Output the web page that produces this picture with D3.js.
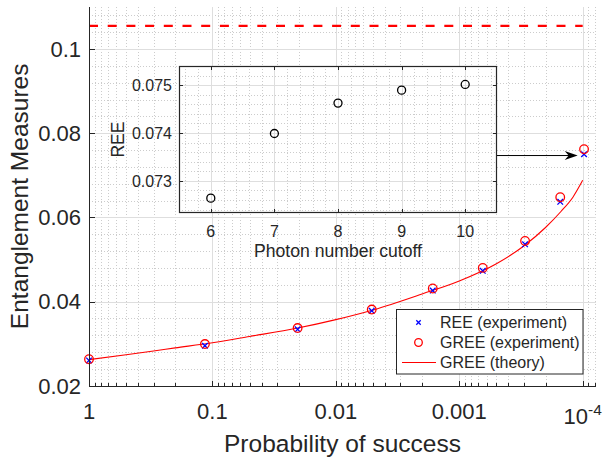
<!DOCTYPE html>
<html><head><meta charset="utf-8">
<script src="https://cdn.jsdelivr.net/npm/d3@7"></script>
<style>
body{margin:0;background:#fff}
svg{display:block}
text{font-family:"Liberation Sans",Arial,Helvetica,sans-serif;fill:#262626}
</style>
</head><body>
<svg id="chart" width="603" height="459"></svg>
<script>
// ---------- data ----------
const probability = [1, 0.115, 0.0204, 0.00512, 0.00164, 6.45e-4, 2.93e-4, 1.52e-4, 9.75e-5];
const reeExperiment = [0.0260, 0.0295, 0.0334, 0.0378, 0.0426, 0.0473, 0.0536, 0.0637, 0.0750];
const greeExperiment = [0.0263, 0.0299, 0.0337, 0.0381, 0.0431, 0.0480, 0.0544, 0.0648, 0.0762];
const theoryProbability = [1, 0.5, 0.3, 0.2, 0.1, 0.05, 0.0204, 0.01, 0.005, 0.002, 0.001, 5e-4, 3e-4, 2e-4, 1.5e-4, 1.2e-4, 1e-4];
const greeTheory = [0.0262, 0.02737, 0.02826, 0.02898, 0.0302, 0.0317, 0.0337, 0.0357, 0.0380, 0.0418, 0.0449, 0.0490, 0.0532, 0.0576, 0.0614, 0.0648, 0.0688];
const boundProbability = [1, 1e-4];
const boundValue = [0.1055, 0.1055];
const xTicks = [1, 0.1, 0.01, 0.001, 1e-4];
const xTickLabels = ["1", "0.1", "0.01", "0.001", "10^-4"];
const yTicks = [0.02, 0.04, 0.06, 0.08, 0.1];
const yTickLabels = ["0.02", "0.04", "0.06", "0.08", "0.1"];
const legendLabels = ["REE (experiment)", "GREE (experiment)", "GREE (theory)"];

const photonCutoff = [6, 7, 8, 9, 10];
const reeByCutoff = [0.07264, 0.07399, 0.074625, 0.074896, 0.075015];
const insetXTicks = [6, 7, 8, 9, 10];
const insetXTickLabels = ["6", "7", "8", "9", "10"];
const insetYTicks = [0.073, 0.074, 0.075];
const insetYTickLabels = ["0.073", "0.074", "0.075"];

// ---------- setup ----------
const svg = d3.select("#chart");
const axisColor = "#262626";
const majorGrid = "#dedede";
const minorGrid = "#cccccc";

const L = 89, R = 596, T = 7, B = 385.7;
const x = d3.scaleLog().domain([1, 7.8e-5]).range([L, R]);
const y = d3.scaleLinear().domain([0.02, 0.11]).range([B, T]);

const g = svg.append("g");

// minor grid
const xMinor = x.ticks().filter(v => !xTicks.some(t => Math.abs(Math.log10(t) - Math.log10(v)) < 1e-6));
const yMinor = d3.range(0, 23).map(i => 0.02 + i * 0.004).filter(v => v <= 0.1101 && !yTicks.some(t => Math.abs(t - v) < 1e-9));
g.selectAll(".xmin").data(xMinor).join("line")
  .attr("x1", d => Math.round(x(d)) + 0.5).attr("x2", d => Math.round(x(d)) + 0.5)
  .attr("y1", T).attr("y2", B)
  .attr("stroke", minorGrid).attr("stroke-width", 1).attr("stroke-dasharray", "1,2");
g.selectAll(".ymin").data(yMinor).join("line")
  .attr("x1", L).attr("x2", R)
  .attr("y1", d => Math.round(y(d)) + 0.5).attr("y2", d => Math.round(y(d)) + 0.5)
  .attr("stroke", minorGrid).attr("stroke-width", 1).attr("stroke-dasharray", "1,2");
// major grid
g.selectAll(".xmaj").data(xTicks).join("line")
  .attr("x1", d => Math.round(x(d)) + 0.5).attr("x2", d => Math.round(x(d)) + 0.5)
  .attr("y1", T).attr("y2", B).attr("stroke", majorGrid).attr("stroke-width", 1);
g.selectAll(".ymaj").data(yTicks).join("line")
  .attr("x1", L).attr("x2", R)
  .attr("y1", d => Math.round(y(d)) + 0.5).attr("y2", d => Math.round(y(d)) + 0.5)
  .attr("stroke", majorGrid).attr("stroke-width", 1);

// bound (dashed)
const boundData = boundProbability.map((p, i) => [p, boundValue[i]]);
g.append("path").datum(boundData)
  .attr("d", d3.line().x(d => x(d[0])).y(d => y(d[1])))
  .attr("stroke", "#ff0000").attr("stroke-width", 2.2).attr("fill", "none")
  .attr("stroke-dasharray", "9,9.7");

// theory line
const theoryData = theoryProbability.map((p, i) => [p, greeTheory[i]]);
g.append("path").datum(theoryData)
  .attr("d", d3.line().x(d => x(d[0])).y(d => y(d[1])).curve(d3.curveMonotoneX))
  .attr("stroke", "#ff0000").attr("stroke-width", 1.1).attr("fill", "none");

// markers
const crossPath = s => `M${-s},${-s}L${s},${s}M${-s},${s}L${s},${-s}`;
g.selectAll(".ree").data(probability.map((p, i) => [p, reeExperiment[i]])).join("path")
  .attr("transform", d => `translate(${x(d[0])},${y(d[1])})`)
  .attr("d", crossPath(2.8)).attr("stroke", "#0000ff").attr("stroke-width", 1.3).attr("fill", "none");
g.selectAll(".gree").data(probability.map((p, i) => [p, greeExperiment[i]])).join("circle")
  .attr("cx", d => x(d[0])).attr("cy", d => y(d[1])).attr("r", 4.3)
  .attr("stroke", "#ff0000").attr("stroke-width", 1.3).attr("fill", "none");

// axes lines
g.append("line").attr("x1", L).attr("x2", R).attr("y1", Math.round(B) + 0.5).attr("y2", Math.round(B) + 0.5)
  .attr("stroke", axisColor).attr("stroke-width", 1);
g.append("line").attr("x1", L + 0.5).attr("x2", L + 0.5).attr("y1", T).attr("y2", Math.round(B) + 0.5)
  .attr("stroke", axisColor).attr("stroke-width", 1);
// ticks
g.selectAll(".xt").data(xTicks).join("line")
  .attr("x1", d => Math.round(x(d)) + 0.5).attr("x2", d => Math.round(x(d)) + 0.5)
  .attr("y1", Math.round(B)).attr("y2", Math.round(B) - 5).attr("stroke", axisColor);
g.selectAll(".xmt").data(xMinor).join("line")
  .attr("x1", d => Math.round(x(d)) + 0.5).attr("x2", d => Math.round(x(d)) + 0.5)
  .attr("y1", Math.round(B)).attr("y2", Math.round(B) - 3).attr("stroke", axisColor);
g.selectAll(".yt").data(yTicks).join("line")
  .attr("x1", L).attr("x2", L + 6)
  .attr("y1", d => Math.round(y(d)) + 0.5).attr("y2", d => Math.round(y(d)) + 0.5).attr("stroke", axisColor);

// tick labels
g.selectAll(".ytl").data(yTicks).join("text")
  .attr("x", 81).attr("y", d => y(d)).attr("dy", "0.36em")
  .attr("text-anchor", "end").attr("font-size", 22)
  .text((d, i) => yTickLabels[i]);
xTicks.forEach((t, i) => {
  const lab = xTickLabels[i];
  const tx = g.append("text").attr("x", x(t)).attr("text-anchor", "middle").attr("font-size", 22);
  if (lab.includes("^")) {
    const [base, exp] = lab.split("^");
    tx.attr("y", 423.5);
    tx.append("tspan").text(base);
    tx.append("tspan").attr("font-size", 15.5).attr("dy", -8.5).text(exp);
  } else {
    tx.attr("y", 418.5).text(lab);
  }
});

// axis labels
g.append("text").attr("x", (L + R) / 2).attr("y", 452).attr("text-anchor", "middle")
  .attr("font-size", 24.5).text("Probability of success");
g.append("text").attr("transform", `translate(28,${(T + B) / 2}) rotate(-90)`)
  .attr("text-anchor", "middle").attr("font-size", 24.5).text("Entanglement Measures");

// ---------- inset ----------
const iL = 179, iR = 497, iT = 66, iB = 213;
const xi = d3.scaleLinear().domain([5.5, 10.5]).range([iL, iR]);
const yi = d3.scaleLinear().domain([0.07233, 0.0754]).range([iB, iT]);
const ig = svg.append("g");
ig.append("rect").attr("x", iL).attr("y", iT).attr("width", iR - iL).attr("height", iB - iT).attr("fill", "#fff");
const ixMinor = d3.range(0, 26).map(i => 5.6 + i * 0.2).filter(v => v < 10.5 && Math.abs(v - Math.round(v)) > 1e-6);
const iyMinor = d3.range(0, 17).map(i => 0.0724 + i * 0.0002).filter(v => v < 0.0754 && !insetYTicks.some(t => Math.abs(t - v) < 1e-9));
ig.selectAll(".ixm").data(ixMinor).join("line")
  .attr("x1", d => Math.round(xi(d)) + 0.5).attr("x2", d => Math.round(xi(d)) + 0.5)
  .attr("y1", iT).attr("y2", iB).attr("stroke", minorGrid).attr("stroke-dasharray", "1,2");
ig.selectAll(".iym").data(iyMinor).join("line")
  .attr("x1", iL).attr("x2", iR)
  .attr("y1", d => Math.round(yi(d)) + 0.5).attr("y2", d => Math.round(yi(d)) + 0.5)
  .attr("stroke", minorGrid).attr("stroke-dasharray", "1,2");
ig.selectAll(".ixM").data(insetXTicks).join("line")
  .attr("x1", d => Math.round(xi(d)) + 0.5).attr("x2", d => Math.round(xi(d)) + 0.5)
  .attr("y1", iT).attr("y2", iB).attr("stroke", majorGrid);
ig.selectAll(".iyM").data(insetYTicks).join("line")
  .attr("x1", iL).attr("x2", iR)
  .attr("y1", d => Math.round(yi(d)) + 0.5).attr("y2", d => Math.round(yi(d)) + 0.5)
  .attr("stroke", majorGrid);
// points
ig.selectAll(".ip").data(photonCutoff.map((c, i) => [c, reeByCutoff[i]])).join("circle")
  .attr("cx", d => xi(d[0])).attr("cy", d => yi(d[1])).attr("r", 4)
  .attr("fill", "none").attr("stroke", "#000").attr("stroke-width", 1.3);
// box
ig.append("rect").attr("x", iL + 0.5).attr("y", iT + 0.5).attr("width", iR - iL - 1).attr("height", iB - iT - 1)
  .attr("fill", "none").attr("stroke", axisColor).attr("stroke-width", 1.2);
// ticks (inward, all sides)
insetXTicks.forEach(t => {
  const px = Math.round(xi(t)) + 0.5;
  ig.append("line").attr("x1", px).attr("x2", px).attr("y1", iB).attr("y2", iB - 4).attr("stroke", axisColor);
  ig.append("line").attr("x1", px).attr("x2", px).attr("y1", iT).attr("y2", iT + 4).attr("stroke", axisColor);
});
insetYTicks.forEach(t => {
  const py = Math.round(yi(t)) + 0.5;
  ig.append("line").attr("x1", iL).attr("x2", iL + 4).attr("y1", py).attr("y2", py).attr("stroke", axisColor);
  ig.append("line").attr("x1", iR).attr("x2", iR - 4).attr("y1", py).attr("y2", py).attr("stroke", axisColor);
});
ig.selectAll(".ixl").data(insetXTicks).join("text")
  .attr("x", d => xi(d)).attr("y", 236.5).attr("text-anchor", "middle").attr("font-size", 16)
  .text((d, i) => insetXTickLabels[i]);
ig.selectAll(".iyl").data(insetYTicks).join("text")
  .attr("x", 172).attr("y", d => yi(d)).attr("dy", "0.36em").attr("text-anchor", "end").attr("font-size", 16)
  .text((d, i) => insetYTickLabels[i]);
ig.append("text").attr("x", (iL + iR) / 2).attr("y", 257).attr("text-anchor", "middle")
  .attr("font-size", 17.6).text("Photon number cutoff");
ig.append("text").attr("transform", `translate(124,${(iT + iB) / 2}) rotate(-90)`)
  .attr("text-anchor", "middle").attr("font-size", 17.6).text("REE");

// ---------- arrow ----------
const ay = y(0.0747);
const ax0 = iR, ax1 = x(1e-4) - 5;
svg.append("line").attr("x1", ax0).attr("x2", ax1 - 6).attr("y1", ay).attr("y2", ay)
  .attr("stroke", "#000").attr("stroke-width", 1);
svg.append("path")
  .attr("d", `M${ax1},${ay}L${ax1 - 13},${ay - 4.5}L${ax1 - 9},${ay}L${ax1 - 13},${ay + 4.5}Z`)
  .attr("fill", "#000");

// ---------- legend ----------
const lg = svg.append("g");
lg.append("rect").attr("x", 396.5).attr("y", 309.5).attr("width", 186.5).attr("height", 64.5)
  .attr("fill", "#fff").attr("stroke", axisColor).attr("stroke-width", 1);
const rowY = [322.5, 342.5, 362.5];
lg.selectAll(".lt").data(legendLabels).join("text")
  .attr("x", 440).attr("y", (d, i) => rowY[i]).attr("dy", "0.36em").attr("font-size", 16)
  .text(d => d);
lg.append("path").attr("transform", `translate(418.5,${rowY[0]})`).attr("d", crossPath(2.2))
  .attr("stroke", "#0000ff").attr("stroke-width", 1.3).attr("fill", "none");
lg.append("circle").attr("cx", 418.5).attr("cy", rowY[1]).attr("r", 3.8)
  .attr("stroke", "#ff0000").attr("stroke-width", 1.3).attr("fill", "none");
lg.append("line").attr("x1", 402).attr("x2", 436).attr("y1", rowY[2]).attr("y2", rowY[2])
  .attr("stroke", "#ff0000").attr("stroke-width", 1.1);
</script>
</body></html>
